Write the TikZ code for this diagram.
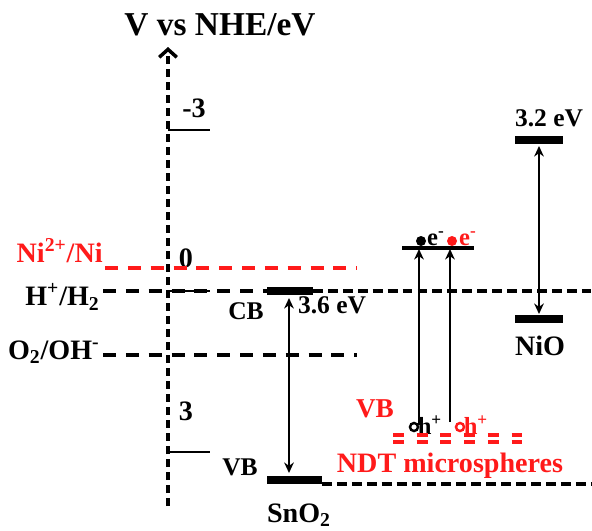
\documentclass[tikz,border=0pt]{standalone}
\usepackage{fontspec}
\setmainfont{Liberation Serif}
\usepackage{tikz}
\usetikzlibrary{arrows.meta,positioning}
\definecolor{levelred}{HTML}{FF1A1A}

\begin{document}
\begin{tikzpicture}[x=0.02cm, y=-0.02cm, >={Stealth[length=6pt,width=5.5pt]},
  every node/.style={font=\bfseries\fontsize{16}{18}\selectfont, inner sep=0pt},
  smalllab/.style={font=\bfseries\fontsize{14.5}{16}\selectfont},
  tinylab/.style={font=\bfseries\fontsize{14}{16}\selectfont},
  refline/.style={line width=2.3pt, dash pattern=on 7.4pt off 5.6pt},
  fineline/.style={line width=2pt, dash pattern=on 5.6pt off 2.9pt},
  band/.style={line width=4pt},
  tickline/.style={line width=1.7pt},
  excite/.style={->, line width=1.6pt},
  gap/.style={<->, line width=1.6pt}]
  \useasboundingbox (0,0) rectangle (592,531);

  \node (title) at (220,25) {\fontsize{19}{21}\selectfont V vs NHE/eV};
  \coordinate (axbot) at (168,506);
  \coordinate (axtop) at (168,47);
  \draw[line width=2.3pt, dash pattern=on 4.5pt off 2.9pt, -{Straight Barb[length=4.5pt,width=10pt,line width=2pt]}] (axbot) -- (axtop);

  \foreach \v/\y in {m3/130, 0/291, 3/452} {
    \coordinate (tick\v) at (168,\y);
    \coordinate (tickend\v) at (210,\y);
    \draw[tickline] (tick\v) -- (tickend\v);
  }
  \node (lm3) at (194,108) {-3};
  \node (l0) at (186,258) {0};
  \node (l3) at (186,411) {3};

  \coordinate (nia) at (105,268);
  \coordinate (nib) at (357,268);
  \draw[refline, levelred] (nia) -- (nib);
  \node[levelred, anchor=east] (ni) at (103,251) {Ni\textsuperscript{2+}/Ni};

  \coordinate (ha) at (103,291);
  \coordinate (hb) at (267,291);
  \coordinate (hc) at (313,291);
  \coordinate (hd) at (591,291);
  \draw[refline] (ha) -- (hb);
  \draw[fineline] (hc) -- (hd);
  \node[anchor=east] (hh) at (100,297) {H\textsuperscript{+}/H\textsubscript{2}};

  \coordinate (oa) at (103,355);
  \coordinate (ob) at (357,355);
  \draw[refline] (oa) -- (ob);
  \node[anchor=east] (oh) at (100,352) {O\textsubscript{2}/OH\textsuperscript{-}};

  \coordinate (cba) at (267,291);
  \coordinate (cbb) at (313,291);
  \coordinate (vba) at (267,480);
  \coordinate (vbb) at (322,480);
  \draw[band] (cba) -- (cbb);
  \draw[band] (vba) -- (vbb);
  \coordinate (bota) at (322,484);
  \coordinate (botb) at (591,484);
  \draw[fineline] (bota) -- (botb);
  \coordinate (snup) at (289,298);
  \coordinate (sndn) at (289,473);
  \draw[gap] (snup) -- (sndn);
  \node[smalllab] (cb) at (246,311) {CB};
  \node[smalllab] (gapsn) at (332,305) {3.6 eV};
  \node[smalllab] (vb) at (240,467) {VB};
  \node (sno) at (299,515) {SnO\textsubscript{2}};

  \coordinate (nta) at (515,140);
  \coordinate (ntb) at (563,140);
  \coordinate (nba) at (515,319);
  \coordinate (nbb) at (563,319);
  \draw[band] (nta) -- (ntb);
  \draw[band] (nba) -- (nbb);
  \coordinate (niup) at (539,146);
  \coordinate (nidn) at (539,314);
  \draw[gap] (niup) -- (nidn);
  \node[smalllab] (gapni) at (549,118) {3.2 eV};
  \node (nio) at (540,346) {NiO};

  \coordinate (cla) at (402,248);
  \coordinate (clb) at (474,248);
  \draw[line width=2pt] (cla) -- (clb);
  \coordinate (h1) at (419,425);
  \coordinate (e1) at (419,249);
  \coordinate (h2) at (450,422);
  \coordinate (e2) at (450,249);
  \draw[excite] (h1) -- (e1);
  \draw[excite] (h2) -- (e2);
  \draw[line width=1.4pt] (414,427) circle (4);
  \draw[line width=1.4pt, levelred] (460,427) circle (4);
  \node[tinylab] (hole1) at (430,425) {h\textsuperscript{+}};
  \node[tinylab, levelred] (hole2) at (476,425) {h\textsuperscript{+}};
  \fill (421,241) circle (5);
  \fill[levelred] (452,241) circle (5);
  \node[tinylab] (el1) at (436,239) {e\textsuperscript{-}};
  \node[tinylab, levelred] (el2) at (468,239) {e\textsuperscript{-}};

  \node[smalllab, levelred, font=\bfseries\fontsize{15.5}{17}\selectfont] (vbr) at (375,409) {VB};
  \coordinate (dda) at (393,435);
  \coordinate (ddb) at (524,435);
  \coordinate (ddc) at (393,442);
  \coordinate (ddd) at (524,442);
  \draw[levelred, line width=1.8pt, dash pattern=on 6.2pt off 7.3pt] (dda) -- (ddb);
  \draw[levelred, line width=1.8pt, dash pattern=on 6.2pt off 7.3pt] (ddc) -- (ddd);
  \node[levelred] (ndt) at (450,466) {NDT microspheres};
\end{tikzpicture}
\end{document}
